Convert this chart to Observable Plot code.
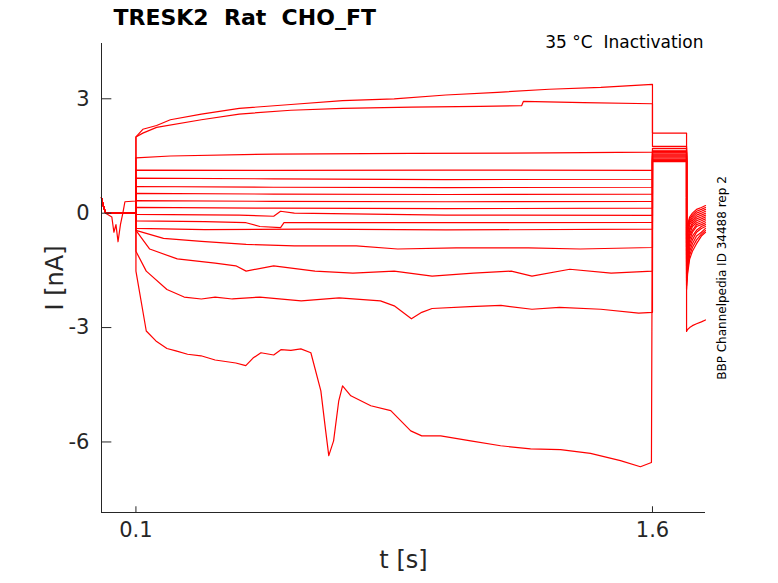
<!DOCTYPE html>
<html><head><meta charset="utf-8">
<script src="https://cdn.jsdelivr.net/npm/d3@7"></script>
<script src="https://cdn.jsdelivr.net/npm/@observablehq/plot@0.6"></script>
<style>body{margin:0;background:#fff;font-family:"DejaVu Sans",sans-serif}#c{position:relative;width:778px;height:583px}</style>
</head><body><div id="c"></div>
<script>
const xTicks=[0.1,1.6], yTicks=[3,0,-3,-6];
// body of each sweep during the step [t, I]
const bodies=[
 [[0.1,2.0],[0.12,2.2],[0.16,2.3],[0.2,2.45],[0.29,2.6],[0.4,2.75],[0.55,2.85],[0.7,2.95],[0.85,3.0],[1.0,3.1],[1.15,3.17],[1.3,3.25],[1.45,3.3],[1.6,3.38]],
 [[0.1,2.0],[0.12,2.1],[0.16,2.25],[0.29,2.45],[0.4,2.6],[0.55,2.7],[0.7,2.75],[0.9,2.78],[1.1,2.8],[1.22,2.82],[1.225,2.93],[1.4,2.9],[1.6,2.87]],
 [[0.1,1.45],[0.2,1.5],[0.5,1.55],[0.9,1.57],[1.3,1.58],[1.6,1.6]],
 [[0.1,1.13],[0.5,1.12],[1.0,1.13],[1.6,1.12]],
 [[0.1,0.92],[0.5,0.9],[1.0,0.88],[1.6,0.89]],
 [[0.1,0.7],[0.5,0.68],[1.0,0.67],[1.6,0.68]],
 [[0.1,0.52],[0.5,0.5],[1.0,0.49],[1.6,0.5]],
 [[0.1,0.33],[0.5,0.31],[1.0,0.3],[1.6,0.31]],
 [[0.1,0.15],[0.5,0.13],[1.0,0.12],[1.6,0.13]],
 [[0.1,-0.03],[0.4,-0.05],[0.5,-0.08],[0.52,0.05],[0.56,0.0],[1.0,-0.05],[1.6,-0.06]],
 [[0.1,-0.2],[0.3,-0.22],[0.42,-0.25],[0.46,-0.35],[0.52,-0.38],[0.53,-0.25],[1.0,-0.25],[1.6,-0.24]],
 [[0.1,-0.4],[0.3,-0.43],[0.6,-0.42],[1.0,-0.44],[1.6,-0.42]],
 [[0.1,-0.45],[0.18,-0.66],[0.29,-0.74],[0.42,-0.82],[0.56,-0.86],[0.74,-0.86],[0.86,-0.94],[1.03,-0.91],[1.24,-0.91],[1.39,-0.94],[1.6,-0.9]],
 [[0.1,-0.45],[0.14,-0.94],[0.22,-1.2],[0.33,-1.31],[0.39,-1.38],[0.42,-1.52],[0.5,-1.38],[0.62,-1.52],[0.73,-1.57],[0.85,-1.52],[0.96,-1.65],[1.08,-1.57],[1.19,-1.52],[1.25,-1.65],[1.36,-1.47],[1.48,-1.57],[1.6,-1.52]],
 [[0.1,-1.0],[0.13,-1.52],[0.19,-2.0],[0.24,-2.2],[0.29,-2.25],[0.33,-2.2],[0.38,-2.25],[0.46,-2.2],[0.58,-2.3],[0.69,-2.22],[0.81,-2.3],[0.85,-2.43],[0.9,-2.77],[0.93,-2.6],[0.96,-2.5],[1.07,-2.45],[1.16,-2.42],[1.25,-2.52],[1.33,-2.47],[1.45,-2.52],[1.56,-2.62],[1.6,-2.6]],
 [[0.1,-1.52],[0.13,-3.09],[0.158,-3.35],[0.19,-3.55],[0.216,-3.61],[0.25,-3.7],[0.289,-3.74],[0.33,-3.85],[0.39,-3.93],[0.419,-4.0],[0.44,-3.8],[0.463,-3.66],[0.5,-3.72],[0.521,-3.58],[0.55,-3.6],[0.579,-3.56],[0.608,-3.66],[0.637,-4.66],[0.651,-5.71],[0.66,-6.36],[0.674,-5.97],[0.689,-4.92],[0.70,-4.53],[0.724,-4.79],[0.782,-5.05],[0.84,-5.18],[0.898,-5.71],[0.93,-5.84],[0.985,-5.84],[1.072,-5.97],[1.159,-6.1],[1.246,-6.18],[1.333,-6.2],[1.42,-6.3],[1.507,-6.49],[1.565,-6.65],[1.597,-6.54]]
];
const tailHold=[2.1,1.75,1.7,1.65,1.62,1.6,1.58,1.55,1.52,1.5,1.48,1.45,1.42,1.4,1.38,1.35];
const tailT=[1.699,1.702,1.708,1.716,1.728,1.742,1.754];
const tailV=[
 [-0.6,-0.3,-0.1,0.0,0.1,0.15,0.2],[-0.7,-0.35,-0.15,-0.05,0.05,0.1,0.15],[-0.8,-0.4,-0.2,-0.1,0.0,0.05,0.1],
 [-0.9,-0.5,-0.25,-0.15,-0.05,0.0,0.05],[-1.0,-0.6,-0.3,-0.2,-0.1,-0.05,0.0],[-1.1,-0.7,-0.4,-0.25,-0.15,-0.1,-0.05],
 [-1.2,-0.8,-0.45,-0.3,-0.2,-0.15,-0.1],[-1.3,-0.9,-0.55,-0.35,-0.25,-0.2,-0.15],[-1.4,-1.0,-0.6,-0.45,-0.3,-0.25,-0.2],
 [-1.5,-1.1,-0.7,-0.5,-0.35,-0.3,-0.25],[-1.6,-1.2,-0.8,-0.6,-0.45,-0.35,-0.3],[-1.7,-1.3,-0.9,-0.7,-0.5,-0.4,-0.35],
 [-1.8,-1.4,-1.0,-0.8,-0.6,-0.5,-0.4],[-1.9,-1.5,-1.1,-0.9,-0.7,-0.55,-0.45],[-2.0,-1.6,-1.2,-1.0,-0.8,-0.6,-0.5],
 [-3.1,-3.05,-3.0,-2.95,-2.9,-2.85,-2.8]
];
// holding before step
const preFlat=[[0,0.4],[0.005,0.2],[0.012,0.0],[0.1,0.0]];
const preDip=[[0,0.4],[0.005,0.2],[0.012,0.0],[0.03,-0.1],[0.036,-0.5],[0.042,-0.3],[0.048,-0.75],[0.055,-0.3],[0.062,0.0],[0.1,0.0]];
const preUp=[[0,0.4],[0.005,0.2],[0.012,0.0],[0.062,0.0],[0.068,0.3],[0.1,0.32]];

const rows=[];
bodies.forEach((b,i)=>{
  const pre = i===14?preDip:(i===7?preUp:preFlat);
  const pts=[...pre,...b,[1.6,tailHold[i]],[1.699,tailHold[i]],...tailT.map((t,j)=>[t,tailV[i][j]])];
  pts.forEach(([t,v])=>rows.push({k:i,t,v}));
});
const plot=Plot.plot({
  width:778,height:583,marginLeft:101,marginRight:73,marginTop:43,marginBottom:71,
  style:{fontFamily:"DejaVu Sans",fontSize:"20px",background:"white"},
  x:{domain:[0,1.754]},y:{domain:[-7.85,4.45]},
  marks:[
    Plot.line(rows,{x:"t",y:"v",z:"k",stroke:"#ff0000",strokeWidth:1.2}),
    Plot.axisX(xTicks,{tickSize:0,tickPadding:10,fontSize:21,color:"#262626",label:null}),
    Plot.axisY(yTicks,{tickSize:0,tickPadding:12,fontSize:21,color:"#262626",label:null,tickFormat:d=>d}),
    Plot.ruleX(xTicks,{x:d=>d,y1:-7.85,y2:-7.7,stroke:"#262626"}),
    Plot.ruleY(yTicks,{y:d=>d,x1:0,x2:0.03,stroke:"#262626"}),
    Plot.ruleX([0],{stroke:"#262626"}),
    Plot.ruleY([-7.85],{stroke:"#262626"}),
    Plot.text(["TRESK2  Rat  CHO_FT"],{frameAnchor:"top-left",dx:12,dy:-34,fontWeight:"bold",fontSize:22,fill:"black",textAnchor:"start"}),
    Plot.text(["35 °C  Inactivation"],{frameAnchor:"top-right",dx:-2,dy:-8,fontSize:17,fill:"black",textAnchor:"end"}),
    Plot.text(["BBP Channelpedia ID 34488 rep 2"],{frameAnchor:"right",dx:17,dy:0,rotate:-90,fontSize:12,fill:"black",textAnchor:"middle"}),
    Plot.text(["I [nA]"],{frameAnchor:"left",dx:-46,dy:0,rotate:-90,fontSize:24,fill:"#262626",textAnchor:"middle"}),
    Plot.text(["t [s]"],{frameAnchor:"bottom",dy:55,dx:0,fontSize:24,fill:"#262626"})
  ]
});
document.getElementById("c").appendChild(plot);
</script></body></html>
